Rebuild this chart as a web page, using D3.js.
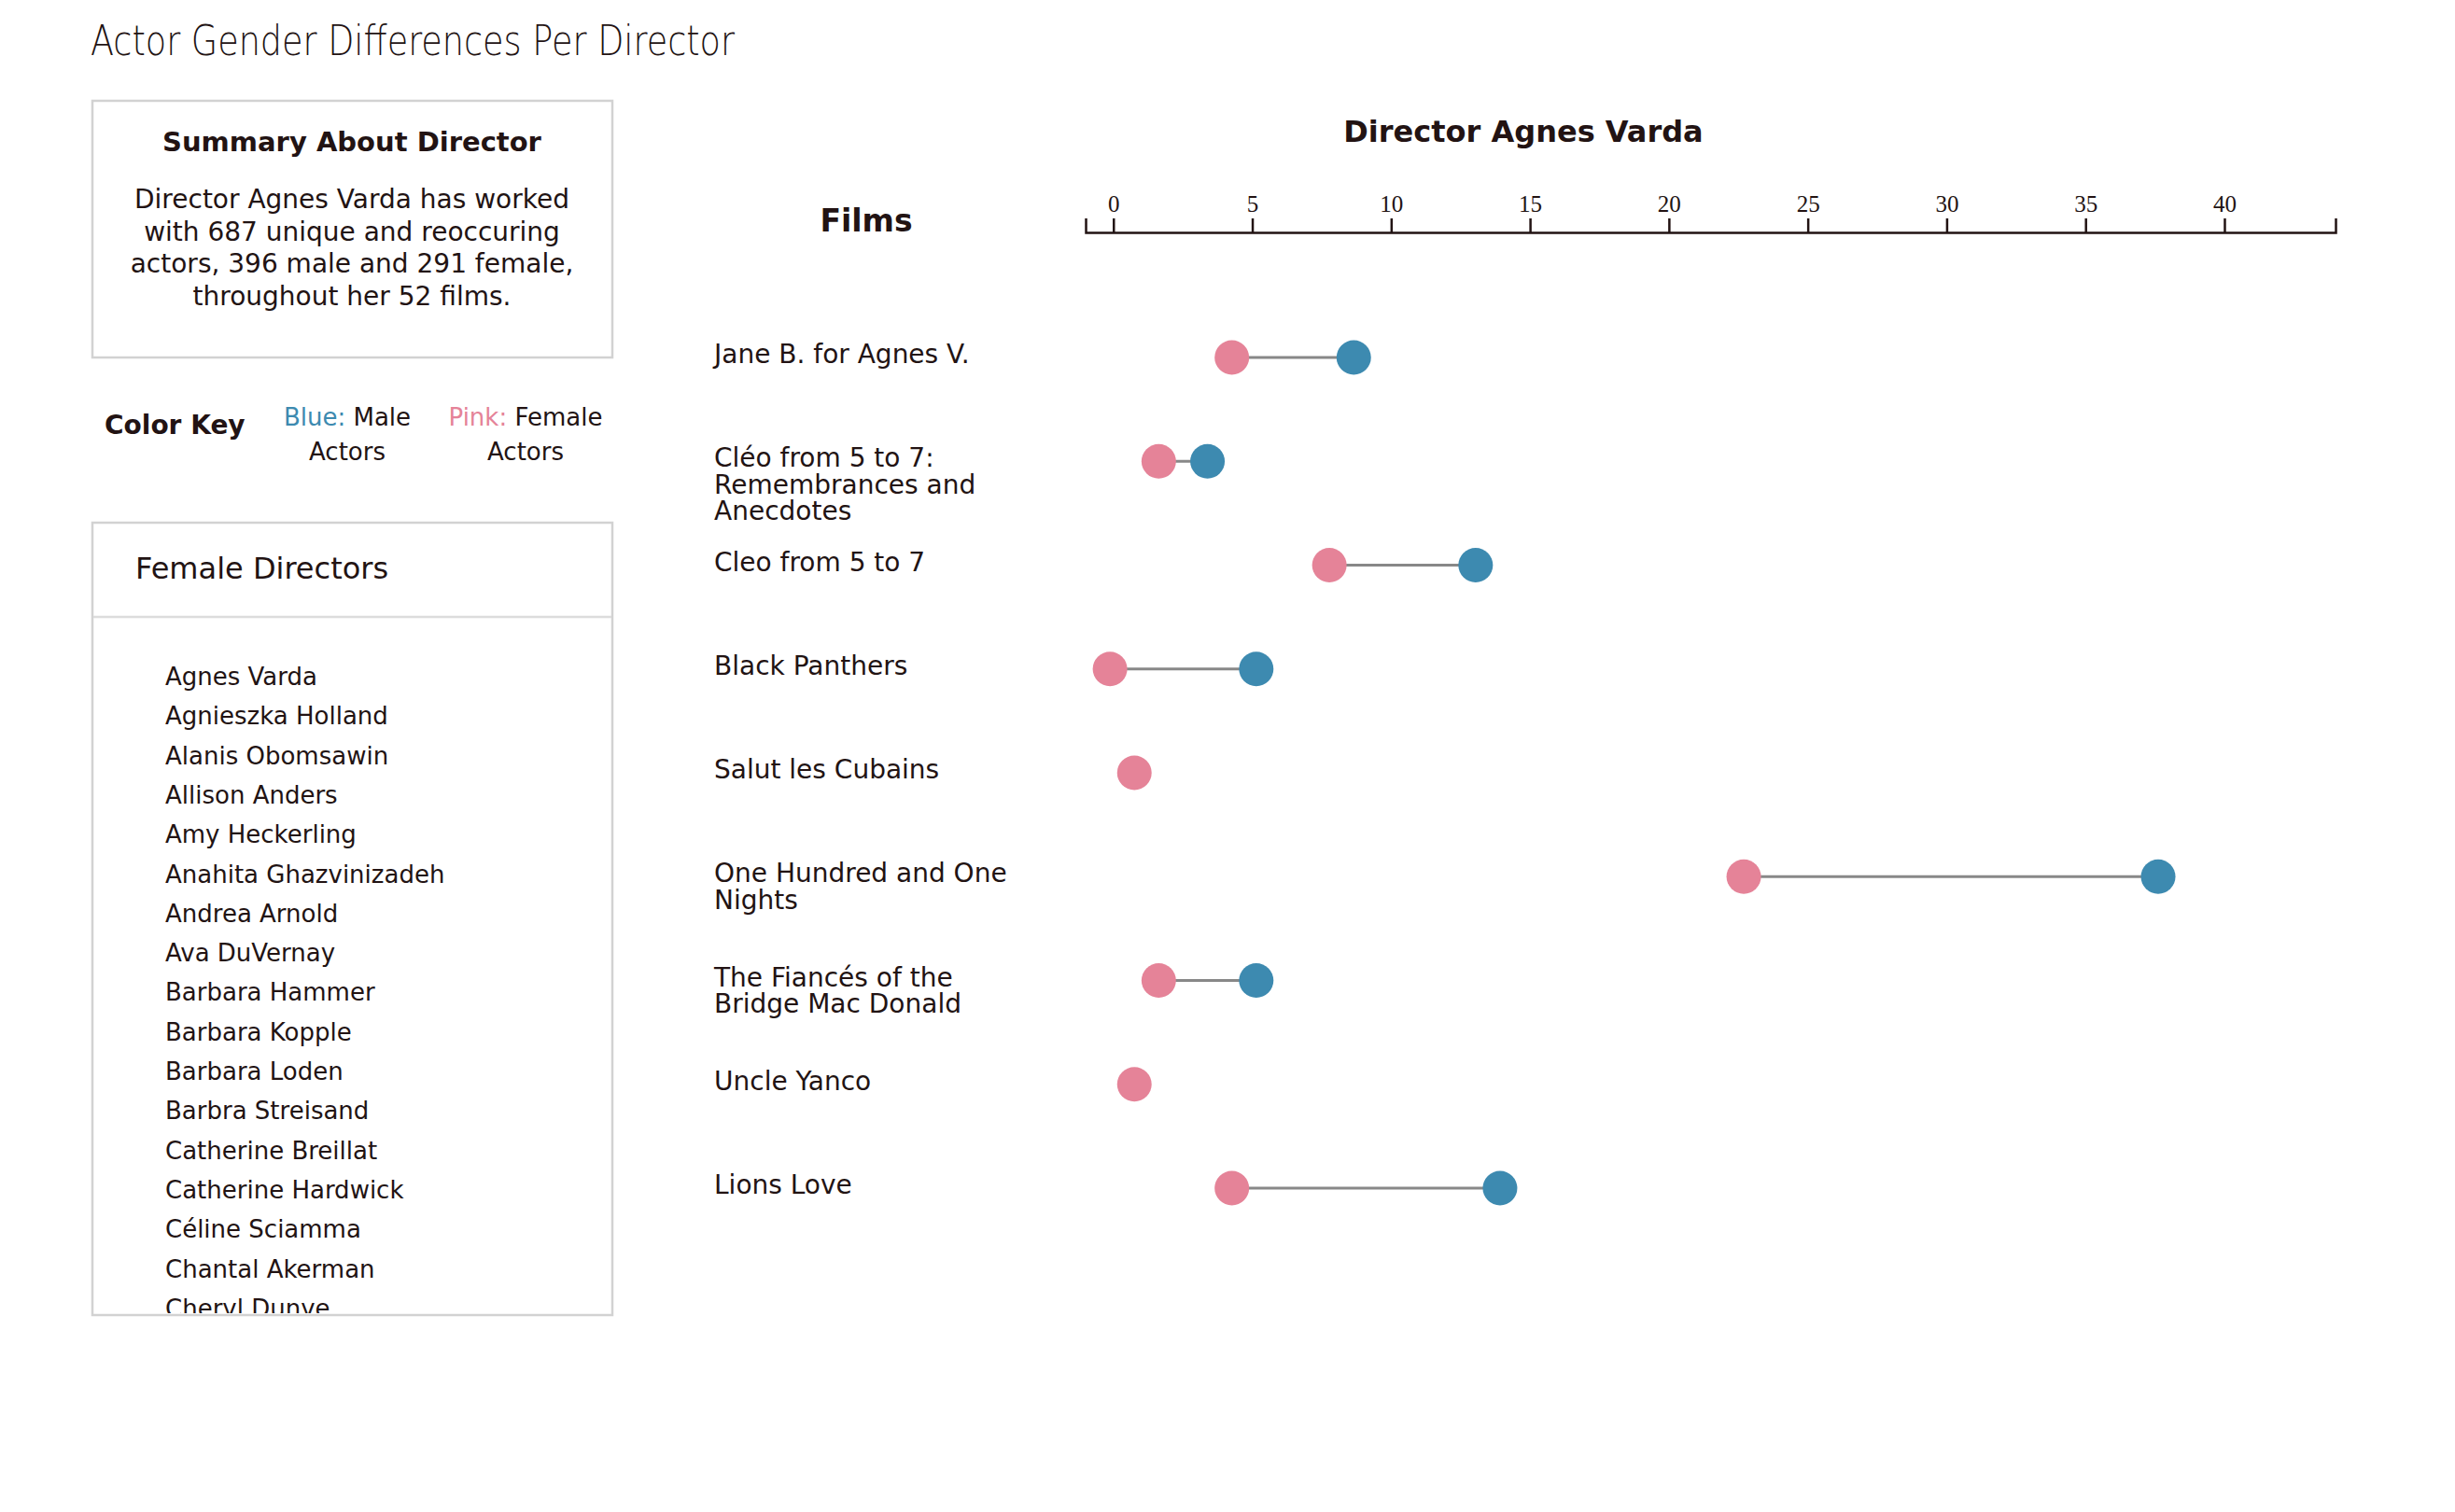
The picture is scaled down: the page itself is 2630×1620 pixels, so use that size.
<!DOCTYPE html>
<html>
<head>
<meta charset="utf-8">
<script src="https://cdn.jsdelivr.net/npm/d3@7"></script>
<style>
  body { margin: 0; background: #fff; }
  text { font-family: "DejaVu Sans", sans-serif; fill: #221313; }
</style>
</head>
<body>
<div class="viz"></div>
<script>
// data
const directorName = "Agnes Varda";
const totalActors = 687;
const maleActors = 396;
const femaleActors = 291;
const filmCount = 52;

const films = [
    "Jane B. for Agnes V.",
    "Cléo from 5 to 7: Remembrances and Anecdotes",
    "Cleo from 5 to 7",
    "Black Panthers",
    "Salut les Cubains",
    "One Hundred and One Nights",
    "The Fiancés of the Bridge Mac Donald",
    "Uncle Yanco",
    "Lions Love"
];
const femaleCounts = [6, 3, 10, 1, 2, 27, 3, 2, 6];
const maleCounts = [11, 5, 16, 7, 0, 44, 7, 0, 17];

const femaleDirectors = [
    "Agnes Varda", "Agnieszka Holland", "Alanis Obomsawin", "Allison Anders",
    "Amy Heckerling", "Anahita Ghazvinizadeh", "Andrea Arnold", "Ava DuVernay",
    "Barbara Hammer", "Barbara Kopple", "Barbara Loden", "Barbra Streisand",
    "Catherine Breillat", "Catherine Hardwick", "Céline Sciamma", "Chantal Akerman",
    "Cheryl Dunye"
];

const axisTicks = [0, 5, 10, 15, 20, 25, 30, 35, 40];

const SVGwd = 2630, SVGht = 1620;
const blue = "#3d8ab0";
const pink = "#e58398";
const ink = "#221313";

var canvas = d3.select(".viz")
    .append("svg")
    .attr("width", SVGwd)
    .attr("height", SVGht);

function wrap(textSel, width, lineHt) {
    textSel.each(function () {
        let text = d3.select(this);
        let words = text.text().split(/\s+/);
        let x = text.attr("x");
        let line = [];
        text.text(null);
        let tspan = text.append("tspan").attr("x", x).attr("dy", 0);
        words.forEach(function (w) {
            line.push(w);
            tspan.text(line.join(" "));
            if (tspan.node().getComputedTextLength() > width && line.length > 1) {
                line.pop();
                tspan.text(line.join(" "));
                line = [w];
                tspan = text.append("tspan").attr("x", x).attr("dy", lineHt).text(w);
            }
        });
    });
}

// page title
canvas.append("text")
    .attr("x", 97)
    .attr("y", 59)
    .attr("textLength", 690)
    .attr("lengthAdjust", "spacingAndGlyphs")
    .style("font-family", "'DejaVu Sans', sans-serif")
    .style("font-weight", 200)
    .style("font-size", "45px")
    .text("Actor Gender Differences Per Director");

// summary box
var summary = canvas.append("g");
summary.append("rect")
    .attr("x", 99).attr("y", 108)
    .attr("width", 557).attr("height", 275)
    .attr("fill", "none")
    .attr("stroke", "#d2d2d2")
    .attr("stroke-width", 2.5);
summary.append("text")
    .attr("x", 377).attr("y", 162)
    .attr("text-anchor", "middle")
    .style("font-size", "29px")
    .style("font-weight", "bold")
    .text("Summary About Director");
summary.append("text")
    .attr("x", 377).attr("y", 223)
    .attr("text-anchor", "middle")
    .style("font-size", "28px")
    .text(`Director ${directorName} has worked with ${totalActors} unique and reoccuring actors, ${maleActors} male and ${femaleActors} female, throughout her ${filmCount} films.`)
    .call(wrap, 505, 34.5);

// colour key
var key = canvas.append("g");
key.append("text")
    .attr("x", 112).attr("y", 465)
    .style("font-size", "28px")
    .style("font-weight", "bold")
    .text("Color Key");
[["Blue:", " Male", blue, 372], ["Pink:", " Female", pink, 563]].forEach(function (k) {
    let t = key.append("text")
        .attr("x", k[3]).attr("y", 456)
        .attr("text-anchor", "middle")
        .style("font-size", "26px");
    t.append("tspan").style("fill", k[2]).text(k[0]);
    t.append("tspan").text(k[1]);
    key.append("text")
        .attr("x", k[3]).attr("y", 493)
        .attr("text-anchor", "middle")
        .style("font-size", "26px")
        .text("Actors");
});

// director list
var list = canvas.append("g");
list.append("rect")
    .attr("x", 99).attr("y", 560)
    .attr("width", 557).attr("height", 849)
    .attr("fill", "none")
    .attr("stroke", "#d2d2d2")
    .attr("stroke-width", 2.5);
list.append("line")
    .attr("x1", 100).attr("x2", 655)
    .attr("y1", 661).attr("y2", 661)
    .attr("stroke", "#dcdcdc")
    .attr("stroke-width", 2.5);
list.append("text")
    .attr("x", 145).attr("y", 620)
    .style("font-size", "32px")
    .text("Female Directors");
list.append("clipPath").attr("id", "listclip")
    .append("rect")
    .attr("x", 100).attr("y", 663)
    .attr("width", 555).attr("height", 744);
var listY = d3.scaleLinear().domain([0, 1]).range([734, 776.3]);
list.append("g")
    .attr("clip-path", "url(#listclip)")
    .selectAll("text")
    .data(femaleDirectors)
    .join("text")
    .attr("x", 177)
    .attr("y", (d, i) => listY(i))
    .style("font-size", "26px")
    .text(d => d);

// chart
var chart = canvas.append("g");
chart.append("text")
    .attr("x", 1632).attr("y", 152)
    .attr("text-anchor", "middle")
    .style("font-size", "32px")
    .style("font-weight", "bold")
    .text("Director " + directorName);
chart.append("text")
    .attr("x", 928).attr("y", 248)
    .attr("text-anchor", "middle")
    .style("font-size", "33px")
    .style("font-weight", "bold")
    .text("Films");

var x = d3.scaleLinear().domain([-1, 44]).range([1163, 2502]);
// the dots sit on their own scale, narrower than the axis (as in the original)
var dotX = d3.scaleLinear().domain([0, 44]).range([1163, 2312]);
var y = d3.scalePoint().domain(films).range([383, 1273]);

var axis = chart.append("g")
    .attr("transform", "translate(0, 249)")
    .call(d3.axisTop(x).tickValues(axisTicks).tickSize(15).tickPadding(7.5));
axis.selectAll("path, line")
    .attr("stroke", ink)
    .attr("stroke-width", 2.5);
axis.selectAll("text")
    .style("font-family", "'Liberation Serif', 'Times New Roman', serif")
    .style("font-size", "25px")
    .style("fill", ink);

var rows = films.map((f, i) => ({ film: f, female: femaleCounts[i], male: maleCounts[i] }));

chart.append("g")
    .selectAll("text")
    .data(rows)
    .join("text")
    .attr("x", 765)
    .attr("y", d => y(d.film) + 6)
    .style("font-size", "28px")
    .text(d => d.film)
    .call(wrap, 345, 28.5);

chart.append("g")
    .selectAll("line")
    .data(rows.filter(d => d.male > 0 && d.female > 0))
    .join("line")
    .attr("x1", d => dotX(d.female))
    .attr("x2", d => dotX(d.male))
    .attr("y1", d => y(d.film))
    .attr("y2", d => y(d.film))
    .attr("stroke", "#888")
    .attr("stroke-width", 3);

chart.append("g")
    .selectAll("circle")
    .data(rows.filter(d => d.female > 0))
    .join("circle")
    .attr("cx", d => dotX(d.female))
    .attr("cy", d => y(d.film))
    .attr("r", 18.5)
    .attr("fill", pink);

chart.append("g")
    .selectAll("circle")
    .data(rows.filter(d => d.male > 0))
    .join("circle")
    .attr("cx", d => dotX(d.male))
    .attr("cy", d => y(d.film))
    .attr("r", 18.5)
    .attr("fill", blue);
</script>
</body>
</html>
